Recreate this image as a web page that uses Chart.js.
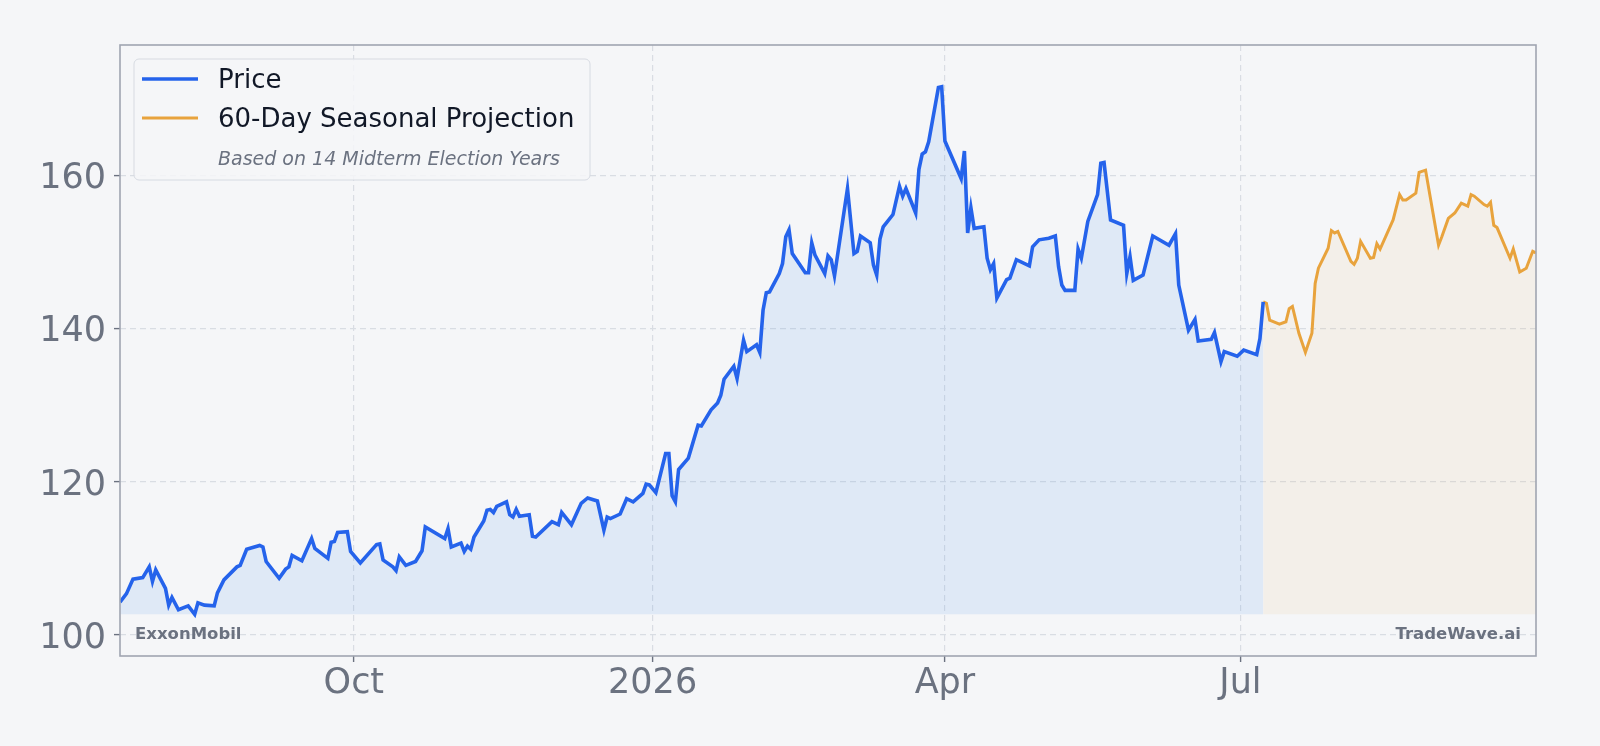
<!DOCTYPE html>
<html>
<head>
<meta charset="utf-8">
<title>ExxonMobil - Seasonal Projection</title>
<script src="https://cdn.jsdelivr.net/npm/chart.js@4.4.1/dist/chart.umd.min.js"></script>
<style>
  html, body { margin: 0; padding: 0; background: #f5f6f8; }
  #wrap { width: 1600px; height: 746px; position: relative; }
</style>
</head>
<body>
<div id="wrap"><canvas id="price-chart"></canvas></div>
<script>
// Day offsets are counted from START_DATE
const START_DATE = '2025-07-21';
const END_DATE = '2026-09-30';

const priceDays = [
    0, 2, 4, 7, 9, 10, 11, 14, 15, 16, 18, 21, 23, 24, 26, 29, 30, 32, 36, 37,
    39, 43, 44, 45, 49, 51, 52, 53, 56, 59, 60, 64, 65, 66, 67, 70, 71, 74, 79, 80,
    81, 84, 85, 86, 88, 91, 93, 94, 100, 101, 102, 105, 106, 107, 108, 109, 112, 113, 114, 115,
    116, 119, 120, 121, 122, 123, 126, 127, 128, 133, 135, 136, 139, 142, 144, 147, 149, 150, 151, 154,
    156, 158, 161, 162, 163, 165, 168, 169, 170, 171, 172, 175, 178, 179, 182, 184, 185, 186, 189, 190,
    192, 193, 196, 197, 198, 199, 200, 203, 204, 205, 206, 207, 211, 212, 213, 214, 217, 218, 219, 220,
    224, 226, 227, 228, 231, 232, 233, 234, 235, 238, 240, 241, 242, 245, 246, 247, 248, 249, 252, 253,
    254, 259, 260, 261, 262, 263, 266, 267, 268, 269, 270, 273, 274, 276, 280, 281, 283, 286, 288, 289,
    290, 291, 294, 295, 296, 298, 301, 302, 303, 305, 309, 310, 311, 312, 315, 318, 323, 325, 326, 329,
    331, 332, 336, 337, 339, 340, 344, 346, 350, 351, 352
];
const priceValues = [
    104.3, 105.4, 107.3, 107.5, 108.9, 107.0, 108.5, 106.1, 103.9, 104.9, 103.3, 103.8, 102.7, 104.2, 103.9, 103.8, 105.5, 107.2, 108.9, 109.1,
    111.2, 111.7, 111.5, 109.6, 107.4, 108.6, 108.9, 110.4, 109.7, 112.6, 111.3, 110.0, 112.1, 112.2, 113.4, 113.5, 110.9, 109.4, 111.8, 111.9,
    109.8, 108.9, 108.4, 110.2, 109.1, 109.6, 111.0, 114.1, 112.6, 113.9, 111.5, 112.0, 110.9, 111.6, 111.2, 112.8, 114.9, 116.3, 116.4, 116.0,
    116.8, 117.4, 115.7, 115.4, 116.4, 115.5, 115.7, 112.9, 112.8, 114.8, 114.4, 116.0, 114.4, 117.2, 117.9, 117.5, 113.7, 115.4, 115.2, 115.8,
    117.8, 117.4, 118.5, 119.7, 119.6, 118.6, 123.7, 123.7, 118.2, 117.4, 121.6, 123.1, 127.4, 127.3, 129.4, 130.3, 131.3, 133.4, 135.1, 133.5,
    138.5, 137.0, 137.9, 136.9, 142.4, 144.7, 144.8, 147.2, 148.5, 152.0, 152.9, 149.8, 147.3, 147.3, 151.2, 149.6, 147.2, 149.5, 149.0, 146.9,
    158.3, 149.8, 150.1, 152.1, 151.2, 148.3, 147.0, 151.7, 153.3, 154.9, 158.6, 157.3, 158.3, 155.1, 160.8, 162.8, 163.1, 164.4, 171.5, 171.6,
    164.5, 159.6, 163.2, 152.5, 155.8, 153.1, 153.3, 149.2, 147.7, 148.5, 144.0, 146.4, 146.6, 149.0, 148.2, 150.7, 151.6, 151.8, 152.1, 148.1,
    145.7, 145.0, 145.0, 150.4, 149.2, 154.0, 157.5, 161.6, 161.7, 154.2, 153.5, 147.2, 149.4, 146.3, 147.0, 152.1, 150.9, 152.4, 145.7, 139.8,
    141.2, 138.4, 138.6, 139.5, 135.7, 137.0, 136.4, 137.2, 136.6, 138.7, 143.5
];

const projDays = [
    352, 353, 354, 357, 359, 360, 361, 363, 365, 367, 368, 369, 372, 373, 374, 375, 379, 380, 381, 382,
    385, 386, 387, 388, 392, 394, 395, 396, 399, 400, 402, 406, 407, 409, 411, 413, 415, 416, 417, 420,
    421, 422, 423, 424, 428, 429, 431, 433, 435, 436
];
const projValues = [
    143.5, 143.3, 141.1, 140.6, 140.9, 142.6, 142.9, 139.4, 136.9, 139.4, 145.9, 147.9, 150.5, 152.8, 152.5, 152.7, 148.8, 148.4, 149.2, 151.4,
    149.2, 149.3, 151.1, 150.4, 154.2, 157.5, 156.8, 156.8, 157.7, 160.4, 160.7, 150.9, 152.0, 154.4, 155.1, 156.4, 156.0, 157.5, 157.3, 156.2,
    156.0, 156.5, 153.5, 153.2, 149.2, 150.4, 147.4, 147.9, 150.1, 149.9
];

const tickDates = ['2025-10-01', '2026-01-01', '2026-04-01', '2026-07-01'];
const tickLabels = ['Oct', '2026', 'Apr', 'Jul'];
const yTicks = [100, 120, 140, 160];

const COLORS = {
    price: '#2563eb',
    priceFill: 'rgba(80,150,230,0.13)',
    proj: '#e8a33d',
    projFill: 'rgba(232,163,61,0.08)',
    grid: '#d9dde3',
    frame: '#a0a5b1',
    muted: '#6b7280',
    text: '#111827',
};
const FONT = "'DejaVu Sans', sans-serif";

function dayOf(iso) {
    const [y, m, d] = iso.split('-').map(Number);
    const [y0, m0, d0] = START_DATE.split('-').map(Number);
    return Math.round((Date.UTC(y, m - 1, d) - Date.UTC(y0, m0 - 1, d0)) / 86400000);
}

const tickDays = tickDates.map(dayOf);
const fillBase = Math.min(...priceValues);

const pricePoints = priceDays.map((d, i) => ({ x: d, y: priceValues[i] }));
const projPoints = projDays.map((d, i) => ({ x: d, y: projValues[i] }));

// Frame, y labels, legend box and the two corner labels
const decorPlugin = {
    id: 'decor',
    afterDraw(chart) {
        const { ctx, chartArea: a } = chart;
        const yScale = chart.scales.y;
        ctx.save();

        ctx.strokeStyle = COLORS.frame;
        ctx.lineWidth = 1.6;
        ctx.strokeRect(a.left, a.top, a.right - a.left, a.bottom - a.top);

        // y tick labels, digits centred on the grid line
        ctx.font = `35px ${FONT}`;
        ctx.fillStyle = COLORS.muted;
        ctx.textAlign = 'right';
        ctx.textBaseline = 'alphabetic';
        yTicks.forEach(v => ctx.fillText(String(v), a.left - 14, yScale.getPixelForValue(v) + 12.8));

        // legend
        ctx.beginPath();
        ctx.roundRect(a.left + 14, a.top + 14, 456, 121, 5);
        ctx.fillStyle = 'rgba(245,246,248,0.85)';
        ctx.fill();
        ctx.strokeStyle = '#d6dae1';
        ctx.lineWidth = 1;
        ctx.stroke();

        const hx = a.left + 22, tx = a.left + 98;
        ctx.lineWidth = 3.6;
        ctx.strokeStyle = COLORS.price;
        ctx.beginPath(); ctx.moveTo(hx, a.top + 34); ctx.lineTo(hx + 56, a.top + 34); ctx.stroke();
        ctx.lineWidth = 3;
        ctx.strokeStyle = COLORS.proj;
        ctx.beginPath(); ctx.moveTo(hx, a.top + 73); ctx.lineTo(hx + 56, a.top + 73); ctx.stroke();

        ctx.textBaseline = 'middle';
        ctx.textAlign = 'left';
        ctx.fillStyle = COLORS.text;
        ctx.font = `26px ${FONT}`;
        ctx.fillText('Price', tx, a.top + 36.5);
        ctx.fillText('60-Day Seasonal Projection', tx, a.top + 75.5);
        ctx.fillStyle = COLORS.muted;
        ctx.font = `italic 19px ${FONT}`;
        ctx.fillText('Based on 14 Midterm Election Years', tx, a.top + 115);

        // corner labels
        ctx.font = `bold 16.5px ${FONT}`;
        ctx.fillStyle = COLORS.muted;
        ctx.fillText('ExxonMobil', a.left + 15, a.bottom - 21);
        ctx.textAlign = 'right';
        ctx.fillText('TradeWave.ai', a.right - 15, a.bottom - 21);

        ctx.restore();
    }
};

new Chart(document.getElementById('price-chart'), {
    type: 'line',
    data: {
        datasets: [
            {
                label: 'Price',
                data: pricePoints,
                borderColor: COLORS.price,
                backgroundColor: COLORS.priceFill,
                borderWidth: 3.6,
                fill: { value: fillBase },
                tension: 0, pointRadius: 0,
            },
            {
                label: '60-Day Seasonal Projection',
                data: projPoints,
                borderColor: COLORS.proj,
                backgroundColor: COLORS.projFill,
                borderWidth: 3,
                fill: { value: fillBase },
                tension: 0, pointRadius: 0,
            },
        ],
    },
    options: {
        responsive: true, maintainAspectRatio: false, animation: false,
        layout: { padding: { top: 45, right: 64, left: 0, bottom: 0 } },
        plugins: { legend: { display: false }, tooltip: { enabled: false } },
        scales: {
            x: {
                type: 'linear',
                min: 0, max: dayOf(END_DATE),
                afterBuildTicks: s => { s.ticks = tickDays.map(v => ({ value: v })); },
                afterFit: s => { s.height = 90; },
                ticks: {
                    callback: (v, i) => tickLabels[i],
                    color: COLORS.muted, font: { family: FONT, size: 35 },
                    padding: 1, maxRotation: 0, autoSkip: false,
                },
                grid: { color: COLORS.grid, lineWidth: 1.2, tickLength: 6, tickColor: COLORS.muted, tickWidth: 1.4 },
                border: { display: false, dash: [6, 4] },
            },
            y: {
                min: 97.26, max: 177.04,
                afterBuildTicks: s => { s.ticks = yTicks.map(v => ({ value: v })); },
                afterFit: s => { s.width = 120; },
                ticks: { display: false },
                grid: { color: COLORS.grid, lineWidth: 1.2, tickLength: 6, tickColor: COLORS.muted, tickWidth: 1.4 },
                border: { display: false, dash: [6, 4] },
            },
        },
    },
    plugins: [decorPlugin],
});
</script>
</body>
</html>
